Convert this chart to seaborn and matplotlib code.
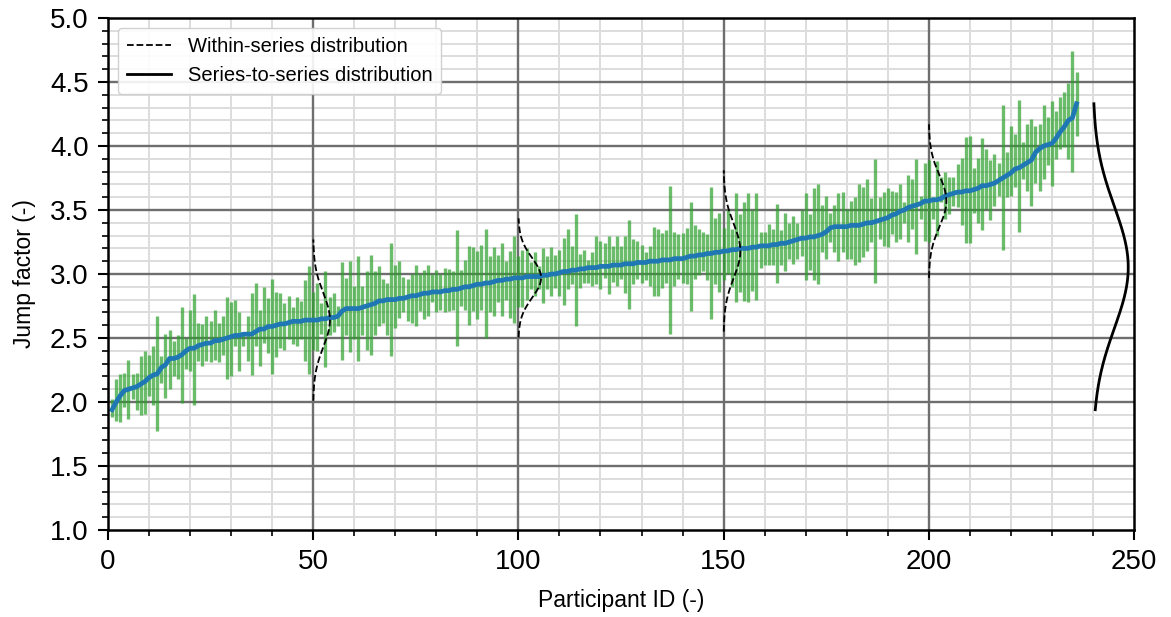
import numpy as np
import seaborn as sns
import matplotlib.pyplot as plt
from matplotlib.ticker import MultipleLocator
from matplotlib.lines import Line2D

# Sorted mean jump factor per participant (IDs 1..236)
means = [
    1.94, 2.00, 2.05, 2.09, 2.10, 2.11, 2.12, 2.14, 2.16, 2.19, 2.21, 2.22, 2.27, 2.29, 2.34, 2.34,
    2.35, 2.37, 2.40, 2.42, 2.42, 2.44, 2.45, 2.46, 2.46, 2.48, 2.48, 2.49, 2.50, 2.51, 2.52, 2.52,
    2.53, 2.53, 2.53, 2.55, 2.57, 2.57, 2.59, 2.59, 2.60, 2.61, 2.61, 2.62, 2.63, 2.63, 2.63, 2.64,
    2.64, 2.64, 2.64, 2.65, 2.65, 2.66, 2.66, 2.67, 2.71, 2.73, 2.73, 2.73, 2.73, 2.74, 2.75, 2.76,
    2.77, 2.79, 2.79, 2.80, 2.80, 2.80, 2.81, 2.81, 2.82, 2.83, 2.83, 2.84, 2.85, 2.85, 2.86, 2.86,
    2.86, 2.87, 2.87, 2.88, 2.88, 2.89, 2.90, 2.90, 2.91, 2.92, 2.92, 2.93, 2.93, 2.94, 2.95,
    2.95, 2.96, 2.96, 2.97, 2.97, 2.97, 2.98, 2.98, 2.98, 2.98, 2.99, 2.99, 3.00, 3.00, 3.01, 3.02,
    3.02, 3.03, 3.03, 3.04, 3.04, 3.05, 3.05, 3.05, 3.06, 3.06, 3.06, 3.07, 3.07, 3.07, 3.08, 3.08,
    3.08, 3.09, 3.09, 3.09, 3.10, 3.10, 3.10, 3.11, 3.11, 3.11, 3.12, 3.12, 3.12, 3.13, 3.14,
    3.14, 3.15, 3.15, 3.16, 3.16, 3.17, 3.17, 3.18, 3.18, 3.19, 3.19, 3.20, 3.20, 3.20, 3.21, 3.21,
    3.22, 3.22, 3.22, 3.23, 3.23, 3.24, 3.24, 3.25, 3.26, 3.27, 3.28, 3.28, 3.29, 3.29, 3.30, 3.31,
    3.33, 3.36, 3.37, 3.37, 3.37, 3.37, 3.38, 3.38, 3.38, 3.39, 3.40, 3.40, 3.41, 3.42, 3.43, 3.44,
    3.46, 3.47, 3.49, 3.50, 3.52, 3.53, 3.54, 3.55, 3.57, 3.57, 3.58, 3.58, 3.59, 3.61, 3.62, 3.63,
    3.64, 3.64, 3.65, 3.65, 3.66, 3.67, 3.69, 3.69, 3.70, 3.71, 3.73, 3.75, 3.77, 3.79, 3.82, 3.83,
    3.85, 3.87, 3.89, 3.95, 3.98, 4.00, 4.01, 4.02, 4.06, 4.11, 4.15, 4.20, 4.22, 4.33,
]

# Top of each participant's range
err_hi = [
    2.02, 2.18, 2.22, 2.23, 2.33, 2.22, 2.23, 2.36, 2.40, 2.37, 2.44, 2.67, 2.36, 2.53, 2.56, 2.48,
    2.52, 2.74, 2.50, 2.72, 2.84, 2.62, 2.61, 2.67, 2.63, 2.72, 2.62, 2.67, 2.82, 2.78, 2.80, 2.70,
    2.54, 2.67, 2.85, 2.93, 2.72, 2.90, 2.81, 2.96, 2.86, 2.85, 2.77, 2.83, 2.74, 2.82, 2.79, 2.95,
    3.06, 2.86, 2.93, 2.77, 3.02, 2.82, 2.85, 2.75, 3.09, 2.97, 3.10, 2.91, 3.14, 2.91, 3.02, 3.15,
    3.02, 3.06, 2.96, 2.93, 3.24, 3.07, 3.10, 2.98, 2.96, 3.00, 3.07, 3.00, 3.03, 3.07, 3.00, 3.03,
    3.00, 3.05, 3.04, 3.02, 3.34, 3.03, 3.11, 3.22, 3.21, 3.18, 3.23, 3.35, 3.14, 3.21, 3.15,
    3.24, 3.10, 3.18, 3.30, 3.14, 3.19, 3.20, 3.09, 3.17, 3.06, 3.20, 3.14, 3.21, 3.15, 3.19, 3.28,
    3.35, 3.22, 3.47, 3.16, 3.19, 3.11, 3.17, 3.30, 3.26, 3.24, 3.30, 3.22, 3.30, 3.22, 3.30, 3.42,
    3.27, 3.26, 3.23, 3.17, 3.22, 3.37, 3.35, 3.32, 3.34, 3.69, 3.33, 3.31, 3.32, 3.36, 3.56,
    3.38, 3.35, 3.33, 3.31, 3.68, 3.44, 3.48, 3.36, 3.50, 3.35, 3.63, 3.47, 3.56, 3.63, 3.50, 3.63,
    3.33, 3.33, 3.39, 3.35, 3.55, 3.34, 3.48, 3.40, 3.45, 3.40, 3.50, 3.63, 3.47, 3.67, 3.70, 3.54,
    3.61, 3.48, 3.54, 3.63, 3.64, 3.51, 3.57, 3.60, 3.70, 3.68, 3.74, 3.59, 3.90, 3.60, 3.64, 3.67,
    3.65, 3.64, 3.70, 3.56, 3.77, 3.74, 3.90, 3.61, 3.87, 3.89, 3.60, 3.88, 3.76, 3.80, 3.76, 3.76,
    3.86, 3.91, 4.07, 4.08, 3.83, 3.91, 4.06, 3.98, 3.89, 3.94, 3.87, 4.32, 3.95, 4.16, 4.09, 4.36,
    4.03, 4.17, 4.21, 4.16, 4.17, 4.32, 4.23, 4.35, 4.27, 4.38, 4.42, 4.49, 4.74, 4.58,
]

# Bottom of each participant's range
err_lo = [
    1.88, 1.85, 1.84, 1.96, 1.87, 2.02, 1.94, 1.90, 1.91, 2.05, 1.98, 1.77, 2.15, 2.03, 2.10, 2.20,
    2.18, 1.99, 2.26, 2.24, 1.98, 2.32, 2.28, 2.32, 2.31, 2.33, 2.31, 2.37, 2.18, 2.20, 2.44, 2.24,
    2.44, 2.32, 2.21, 2.44, 2.28, 2.46, 2.38, 2.22, 2.35, 2.42, 2.41, 2.49, 2.45, 2.44, 2.49, 2.32,
    2.22, 2.41, 2.40, 2.53, 2.27, 2.52, 2.55, 2.59, 2.33, 2.52, 2.39, 2.49, 2.32, 2.52, 2.41, 2.37,
    2.52, 2.59, 2.62, 2.52, 2.36, 2.58, 2.66, 2.70, 2.63, 2.62, 2.59, 2.71, 2.65, 2.67, 2.78, 2.70,
    2.72, 2.70, 2.71, 2.72, 2.44, 2.75, 2.72, 2.60, 2.71, 2.65, 2.72, 2.50, 2.70, 2.67, 2.78,
    2.67, 2.80, 2.66, 2.62, 2.74, 2.74, 2.80, 2.88, 2.83, 2.88, 2.77, 2.88, 2.83, 2.89, 2.83, 2.76,
    2.88, 2.92, 2.59, 2.89, 2.93, 2.93, 2.91, 2.92, 2.88, 2.97, 2.84, 2.94, 2.91, 2.96, 2.85, 2.73,
    2.92, 2.96, 2.93, 2.95, 2.91, 2.83, 2.83, 2.89, 2.93, 2.53, 2.91, 2.96, 2.93, 2.92, 2.71,
    2.96, 2.99, 3.02, 2.95, 2.65, 2.92, 2.86, 2.95, 3.00, 2.90, 2.78, 2.86, 2.79, 2.78, 2.87, 2.80,
    3.05, 3.07, 3.07, 3.07, 2.93, 3.07, 3.02, 3.12, 3.08, 3.12, 3.14, 2.95, 3.03, 2.95, 2.92, 3.17,
    3.12, 3.25, 3.17, 3.10, 3.17, 3.12, 3.12, 3.07, 3.09, 3.13, 3.18, 3.25, 2.93, 3.27, 3.22, 3.21,
    3.31, 3.25, 3.27, 3.40, 3.25, 3.35, 3.16, 3.43, 3.26, 3.25, 3.43, 3.30, 3.56, 3.43, 3.47, 3.53,
    3.52, 3.38, 3.24, 3.24, 3.48, 3.40, 3.34, 3.51, 3.42, 3.53, 3.61, 3.19, 3.60, 3.61, 3.68, 3.33,
    3.74, 3.65, 3.53, 3.71, 3.65, 3.74, 3.85, 3.69, 3.90, 3.98, 3.99, 3.90, 3.80, 4.08,
]

ids = np.arange(1, len(means) + 1)

# Within-series distributions shown for a few participants
dist_ids = [50, 100, 150, 200]
within_sd = [0.21, 0.155, 0.21, 0.20]
between_x = 240

plt.rcParams['font.family'] = ['Liberation Sans', 'DejaVu Sans']

fig = plt.figure(figsize=(11.71, 6.17), dpi=100)
ax = fig.add_axes([0.0922, 0.141, 0.8762, 0.8298])

ax.set_xlim(0, 250)
ax.set_ylim(1.0, 5.0)
ax.xaxis.set_major_locator(MultipleLocator(50))
ax.xaxis.set_minor_locator(MultipleLocator(10))
ax.yaxis.set_major_locator(MultipleLocator(0.5))
ax.yaxis.set_minor_locator(MultipleLocator(0.1))

# minor grid via axes, major grid drawn on top of it
ax.grid(which='minor', color='#dddddd', lw=1.4)
ax.set_axisbelow(True)
for xv in np.arange(50, 250, 50):
    ax.axvline(xv, color='#6e6e6e', lw=1.7, zorder=1)
for yv in np.arange(1.5, 5.0, 0.5):
    ax.axhline(yv, color='#6e6e6e', lw=1.7, zorder=1)

# range bars
ax.vlines(ids, err_lo, err_hi, color='#2ca02c', alpha=0.7, lw=2.4, zorder=2)

# sorted means
sns.lineplot(x=ids, y=means, ax=ax, color='#1f77b4', lw=3.4, zorder=3)

# within-series distributions (dashed)
means_arr = np.array(means)
for pid, sd in zip(dist_ids, within_sd):
    mu = means_arr[pid - 1]
    yy = np.linspace(mu - 3 * sd, mu + 3 * sd, 200)
    pdf = np.exp(-0.5 * ((yy - mu) / sd) ** 2) / (sd * np.sqrt(2 * np.pi))
    ax.plot(pid + 2.15 * pdf, yy, color='black', ls='--', lw=1.3, zorder=4)

# series-to-series distribution (solid)
mu_b = means_arr.mean()
sd_b = means_arr.std()
yy = np.linspace(means_arr.min(), means_arr.max(), 300)
pdf = np.exp(-0.5 * ((yy - mu_b) / sd_b) ** 2) / (sd_b * np.sqrt(2 * np.pi))
ax.plot(between_x + 8.6 * pdf / pdf.max(), yy, color='black', lw=2.0, zorder=4)

ax.tick_params(which='major', labelsize=20, length=7, width=1.5, direction='out', pad=7)
ax.tick_params(which='minor', length=4, width=1.2, direction='out')
for s in ax.spines.values():
    s.set_linewidth(1.8)
    s.set_color('black')
    s.set_zorder(5)

ax.set_xlabel('Participant ID (-)', fontsize=16.5, labelpad=10)
ax.set_ylabel('Jump factor (-)', fontsize=16.5, labelpad=10)

handles = [
    Line2D([], [], color='black', ls='--', lw=1.3, label='Within-series distribution'),
    Line2D([], [], color='black', lw=2.0, label='Series-to-series distribution'),
]
ax.legend(handles=handles, loc='upper left', fontsize=14.5, framealpha=0.9,
          handlelength=2.2, borderpad=0.45, labelspacing=0.5)

fig.savefig('out.png', dpi=100)
